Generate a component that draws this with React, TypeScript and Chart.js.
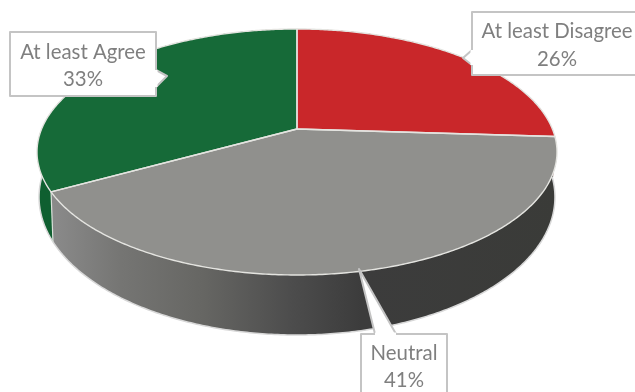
import React, { useEffect, useRef } from "react";
import { Chart, registerables } from "chart.js";

Chart.register(...registerables);

const categories = ["At least Disagree", "Neutral", "At least Agree"];
const shares = [26, 41, 33];
const topColors = ["#C9272A", "#90908D", "#166A38"];
const wallColors = ["#8E1C1E", "", "#0F5F30"];

// perspective view of the pie disc
const CX = 297;
const K = -0.187;
const top = { x: 255.4, y: 118.7, y0: 129 };
const bottom = { x: 253.4, y: 133, y0: 171.4 };

const project = (p: { x: number; y: number; y0: number }, angle: number) => {
  const t = angle + Math.PI / 2;
  const u = Math.sin(t);
  const v = -Math.cos(t);
  const w = 1 + K * v;
  return { x: CX + (p.x * u) / w, y: p.y0 + (p.y * v) / w };
};

const trace = (ctx: CanvasRenderingContext2D, p: any, a: number, b: number, move: boolean) => {
  const n = Math.max(2, Math.ceil(Math.abs(b - a) / 0.01));
  for (let i = 0; i <= n; i++) {
    const q = project(p, a + ((b - a) * i) / n);
    if (i === 0 && move) ctx.moveTo(q.x, q.y);
    else ctx.lineTo(q.x, q.y);
  }
};

const callouts = [
  { box: [472, 12, 175, 63], ptr: [[472, 50], [463, 58], [472, 65]], tx: 557, ty: [31, 59] },
  { box: [361, 334, 86, 70], ptr: [[375, 334], [359, 269], [396, 334]], tx: 404, ty: [353, 380] },
  { box: [10, 32, 146, 64], ptr: [[156, 70], [167, 76], [156, 87]], tx: 83, ty: [52, 79] },
];

const pie3d = {
  id: "pie3d",
  beforeDatasetsDraw(chart: any) {
    const ctx: CanvasRenderingContext2D = chart.ctx;
    const arcs = chart.getDatasetMeta(0).data;
    ctx.save();
    ctx.lineJoin = "round";

    const wallGrad = ctx.createLinearGradient(50, 0, 560, 0);
    wallGrad.addColorStop(0, "#8B8B8B");
    wallGrad.addColorStop(0.14, "#757573");
    wallGrad.addColorStop(0.3, "#666663");
    wallGrad.addColorStop(0.47, "#4D4D4D");
    wallGrad.addColorStop(0.61, "#3C3C3C");
    wallGrad.addColorStop(1, "#3A3B38");

    // side walls
    arcs.forEach((arc: any, i: number) => {
      ctx.beginPath();
      trace(ctx, top, arc.startAngle, arc.endAngle, true);
      trace(ctx, bottom, arc.endAngle, arc.startAngle, false);
      ctx.closePath();
      ctx.fillStyle = wallColors[i] || wallGrad;
      ctx.fill();
    });

    // outer edge of the walls
    ctx.beginPath();
    trace(ctx, bottom, arcs[0].endAngle - 0.02, arcs[2].endAngle - 0.5, true);
    ctx.strokeStyle = "#D8D8D8";
    ctx.lineWidth = 1.5;
    ctx.stroke();

    // wall divider between the front slices
    const d1 = project(top, arcs[1].endAngle);
    const d2 = project(bottom, arcs[1].endAngle);
    ctx.beginPath();
    ctx.moveTo(d1.x, d1.y);
    ctx.lineTo(d2.x, d2.y);
    ctx.strokeStyle = "#D8E0D8";
    ctx.lineWidth = 1.2;
    ctx.stroke();

    // top faces
    arcs.forEach((arc: any, i: number) => {
      ctx.beginPath();
      ctx.moveTo(CX, top.y0);
      trace(ctx, top, arc.startAngle, arc.endAngle, false);
      ctx.closePath();
      ctx.fillStyle = topColors[i];
      ctx.fill();
    });
    arcs.forEach((arc: any) => {
      ctx.beginPath();
      ctx.moveTo(CX, top.y0);
      trace(ctx, top, arc.startAngle, arc.endAngle, false);
      ctx.closePath();
      ctx.strokeStyle = "#E4E4E0";
      ctx.lineWidth = 1.4;
      ctx.stroke();
    });

    // callouts
    ctx.font = "20.4px Lato";
    ctx.textAlign = "center";
    ctx.textBaseline = "middle";
    callouts.forEach((c, i) => {
      const [x, y, w, h] = c.box;
      ctx.beginPath();
      ctx.rect(x, y, w, h);
      ctx.fillStyle = "#FFFFFF";
      ctx.strokeStyle = "#C4C4C4";
      ctx.lineWidth = 2;
      ctx.fill();
      ctx.stroke();
      ctx.beginPath();
      c.ptr.forEach((q, j) => (j ? ctx.lineTo(q[0], q[1]) : ctx.moveTo(q[0], q[1])));
      ctx.fill();
      ctx.stroke();
      // remove the border between the box and its pointer
      ctx.beginPath();
      ctx.moveTo(c.ptr[0][0], c.ptr[0][1]);
      ctx.lineTo(c.ptr[2][0], c.ptr[2][1]);
      ctx.strokeStyle = "#FFFFFF";
      ctx.lineWidth = 3;
      ctx.stroke();
      ctx.fillStyle = "#7F7F7F";
      ctx.fillText(categories[i], c.tx, c.ty[0]);
      ctx.fillText(`${shares[i]}%`, c.tx, c.ty[1]);
    });
    ctx.restore();
    return false;
  },
};

export default function App() {
  const ref = useRef<HTMLCanvasElement>(null);
  useEffect(() => {
    document.body.style.margin = "0";
    document.body.style.background = "#FFFFFF";
    const chart = new Chart(ref.current!, {
      type: "pie",
      data: {
        labels: categories,
        datasets: [{ data: shares, backgroundColor: topColors }],
      },
      options: {
        responsive: false,
        animation: false,
        plugins: { legend: { display: false }, tooltip: { enabled: false } },
      },
      plugins: [pie3d],
    } as any);
    return () => chart.destroy();
  }, []);
  return <canvas ref={ref} width={635} height={392} style={{ display: "block" }} />;
}
